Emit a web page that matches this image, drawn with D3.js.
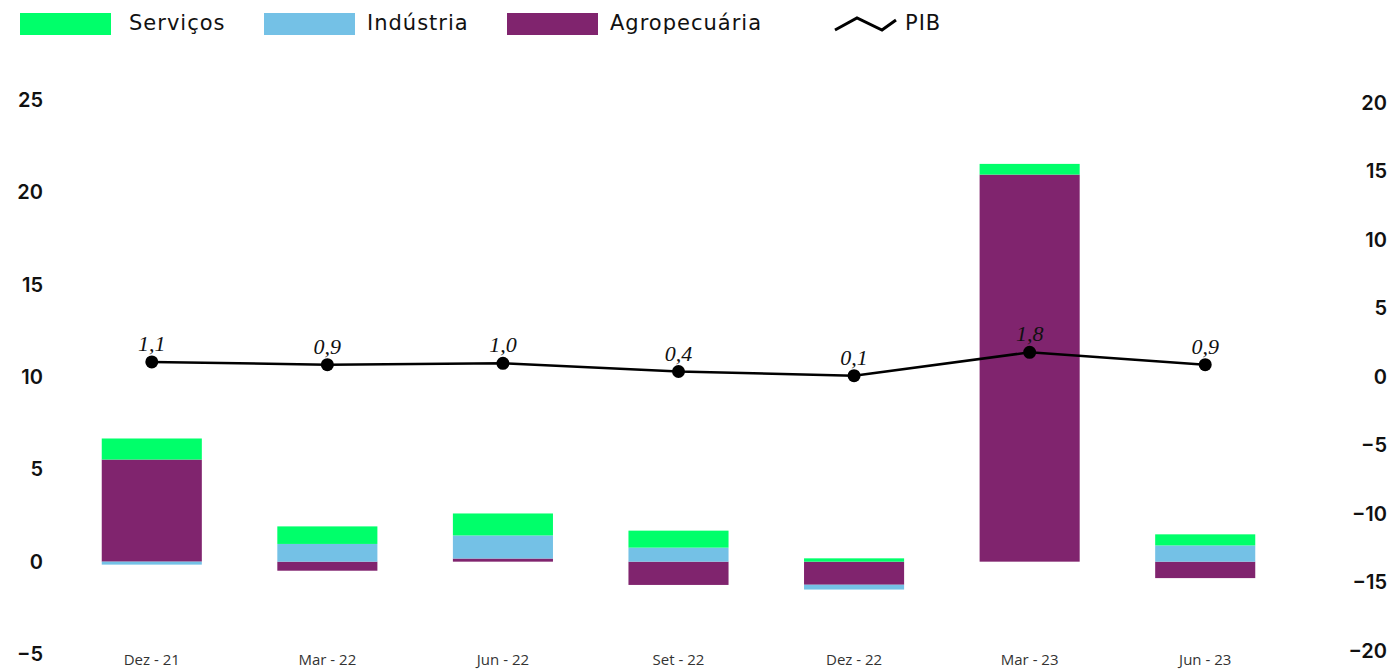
<!DOCTYPE html>
<html><head><meta charset="utf-8">
<script src="https://cdn.jsdelivr.net/npm/d3@7/dist/d3.min.js"></script>
<style>body{margin:0;background:#fff}svg{display:block}</style>
</head><body><svg id="c" width="1389" height="671"></svg>
<script>
const categories = ["Dez - 21","Mar - 22","Jun - 22","Set - 22","Dez - 22","Mar - 23","Jun - 23"];
const servicos     = [1.14, 0.95, 1.19, 0.92, 0.18, 0.58, 0.60];
const industria    = [-0.16, 0.96, 1.25, 0.76, -0.26, 0.00, 0.88];
const agropecuaria = [5.53, -0.49, 0.17, -1.26, -1.25, 20.96, -0.89];
const pib          = [1.1, 0.9, 1.0, 0.4, 0.1, 1.8, 0.9];
const leftTicks  = [-5, 0, 5, 10, 15, 20, 25];
const rightTicks = [-20, -15, -10, -5, 0, 5, 10, 15, 20];

const seriesKeys = ["Agropecuária","Indústria","Serviços"];
const colors = {"Serviços":"#00ff6a","Indústria":"#74c1e6","Agropecuária":"#80246e"};

const rows = categories.map((c,i)=>({cat:c,"Serviços":servicos[i],"Indústria":industria[i],"Agropecuária":agropecuaria[i],pib:pib[i]}));

const svg = d3.select("#c");
const x = d3.scaleBand().domain(categories).range([64,1293]).paddingInner(0.43).paddingOuter(0.215);
const yL = d3.scaleLinear().domain([-5,25]).range([654,100]);
const yR = d3.scaleLinear().domain([-20,20]).range([651,103]);

const stack = d3.stack().keys(seriesKeys).offset(d3.stackOffsetDiverging)(rows);
svg.append("g").selectAll("g").data(stack).join("g")
  .attr("fill",d=>colors[d.key])
  .selectAll("rect").data(d=>d).join("rect")
  .attr("x",d=>x(d.data.cat))
  .attr("width",x.bandwidth())
  .attr("y",d=>yL(Math.max(d[0],d[1])))
  .attr("height",d=>Math.abs(yL(d[0])-yL(d[1])));

// axes
const tickFont = "'Inter','DejaVu Sans',sans-serif";
const gL = svg.append("g").attr("transform","translate(43,0)")
  .call(d3.axisLeft(yL).tickValues(leftTicks).tickSize(0).tickPadding(0).tickFormat(d3.format("d")));
const gR = svg.append("g").attr("transform","translate(1387,0)")
  .call(d3.axisLeft(yR).tickValues(rightTicks).tickSize(0).tickPadding(0).tickFormat(d3.format("d")));
[gL,gR].forEach(g=>{
  g.select(".domain").remove();
  g.selectAll("text").attr("font-family",tickFont).attr("font-size",20).attr("font-weight",600).attr("fill","#111");
});
const gX = svg.append("g").attr("transform","translate(0,652)")
  .call(d3.axisBottom(x).tickSize(0).tickPadding(0));
gX.select(".domain").remove();
gX.selectAll("text").attr("font-family","'Open Sans',sans-serif").attr("font-size",15).attr("fill","#333").attr("dy","0.85em");

// PIB line
const px = d=>x(d.cat)+x.bandwidth()/2;
svg.append("path").datum(rows)
  .attr("fill","none").attr("stroke","#000").attr("stroke-width",2.5)
  .attr("d",d3.line().x(px).y(d=>yR(d.pib)));
svg.append("g").selectAll("circle").data(rows).join("circle")
  .attr("cx",px).attr("cy",d=>yR(d.pib)).attr("r",6.5)
  .attr("fill","#000");
const fmt = v=>d3.format(".1f")(v).replace(".",",");
svg.append("g").selectAll("text").data(rows).join("text")
  .attr("x",px).attr("y",d=>yR(d.pib)-11)
  .attr("text-anchor","middle")
  .attr("font-family","'Liberation Serif','DejaVu Serif',serif").attr("font-style","italic")
  .attr("font-size",22).attr("fill","#111")
  .text(d=>fmt(d.pib));

// legend
const legendItems = [
  {key:"Serviços",x:20,tx:129},{key:"Indústria",x:264,tx:367},{key:"Agropecuária",x:507,tx:610}
];
const lg = svg.append("g");
legendItems.forEach(it=>{
  lg.append("rect").attr("x",it.x).attr("y",13).attr("width",91).attr("height",22).attr("fill",colors[it.key]);
  lg.append("text").attr("x",it.tx).attr("y",30).attr("font-family","'DejaVu Sans',sans-serif")
    .attr("font-size",21).attr("letter-spacing",1).attr("fill","#111").text(it.key);
});
lg.append("path").attr("d","M835,30 L857,18 L882,30 L896,20").attr("fill","none").attr("stroke","#000").attr("stroke-width",3);
lg.append("text").attr("x",905).attr("y",30).attr("font-family","'DejaVu Sans',sans-serif").attr("font-size",21).attr("letter-spacing",1).attr("fill","#111").text("PIB");
</script></body></html>
